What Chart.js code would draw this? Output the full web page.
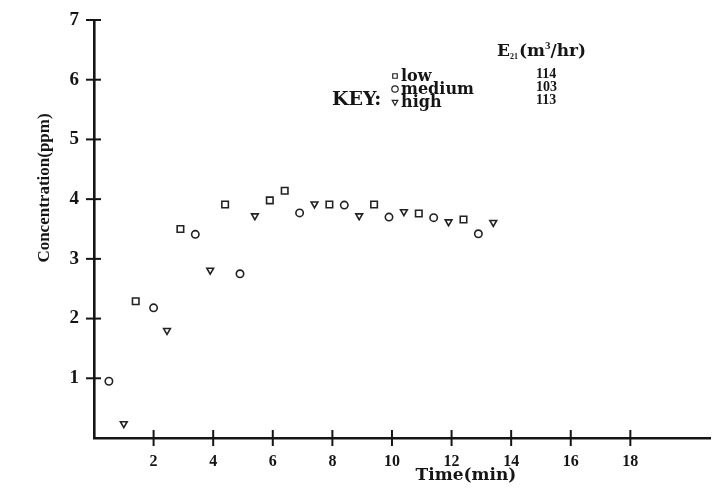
<!DOCTYPE html>
<html>
<head>
<meta charset="utf-8">
<script src="https://cdn.jsdelivr.net/npm/chart.js@4"></script>
<style>
  html, body { margin: 0; padding: 0; background: #fff; }
  #chart { display: block; }
</style>
</head>
<body>
<canvas id="chart" width="717" height="494"></canvas>
<script>
// values
const lowTime = [1.4, 2.9, 4.4, 5.9, 6.4, 7.9, 9.4, 10.9, 12.4];
const lowConc = [2.29, 3.5, 3.91, 3.98, 4.14, 3.91, 3.91, 3.76, 3.66];
const mediumTime = [0.5, 2.0, 3.4, 4.9, 6.9, 8.4, 9.9, 11.4, 12.9];
const mediumConc = [0.95, 2.18, 3.41, 2.75, 3.77, 3.9, 3.7, 3.69, 3.42];
const highTime = [1.0, 2.45, 3.9, 5.4, 7.4, 8.9, 10.4, 11.9, 13.4];
const highConc = [0.24, 1.8, 2.81, 3.72, 3.92, 3.72, 3.79, 3.62, 3.61];

const xTickVals = [2, 4, 6, 8, 10, 12, 14, 16, 18];
const yTickVals = [1, 2, 3, 4, 5, 6, 7];

const keyLabels = ["low", "medium", "high"];
const keyFlows = ["114", "103", "113"];

const serif = "'Liberation Serif', 'DejaVu Serif', serif";
const wide = "'DejaVu Serif', 'Liberation Serif', serif";
const ink = "#151515";

function toPoints(xs, ys) {
  return xs.map((x, i) => ({ x: x, y: ys[i] }));
}

// tick marks that cross the axis lines, like the hand drawn original
const crossTicks = {
  id: "crossTicks",
  afterDraw(chart) {
    const ctx = chart.ctx;
    const xs = chart.scales.x;
    const ys = chart.scales.y;
    const area = chart.chartArea;
    ctx.save();
    ctx.strokeStyle = ink;
    ctx.lineWidth = 2;
    xTickVals.forEach(v => {
      const px = xs.getPixelForValue(v);
      ctx.beginPath();
      ctx.moveTo(px, area.bottom - 8);
      ctx.lineTo(px, area.bottom + 8);
      ctx.stroke();
    });
    yTickVals.forEach(v => {
      const py = ys.getPixelForValue(v);
      ctx.beginPath();
      ctx.moveTo(area.left - 8, py);
      ctx.lineTo(area.left + 7, py);
      ctx.stroke();
    });

    // axis titles
    ctx.fillStyle = ink;
    ctx.font = "bold 17px " + wide;
    ctx.textAlign = "center";
    ctx.textBaseline = "middle";
    ctx.fillText("Time(min)", 466, 476);
    ctx.save();
    ctx.translate(45, 188);
    ctx.rotate(-Math.PI / 2);
    ctx.font = "bold 17px " + serif;
    ctx.fillText("Concentration(ppm)", 0, 0);
    ctx.restore();

    // key block
    ctx.textAlign = "left";
    ctx.font = "bold 19px " + wide;
    ctx.fillText("KEY:", 332, 100);
    const rowY = [77, 90, 103];
    keyLabels.forEach((lab, i) => {
      const ds = chart.data.datasets[i];
      ctx.font = "bold 16px " + wide;
      ctx.fillStyle = ink;
      ctx.fillText(lab, 401, rowY[i]);
      ctx.font = "bold 14px " + serif;
      ctx.fillText(keyFlows[i], 536, rowY[i] - 3);
      ctx.strokeStyle = "#222";
      ctx.fillStyle = "#fff";
      ctx.lineWidth = 1.2;
      Chart.helpers.drawPoint(ctx, {
        pointStyle: ds.pointStyle,
        radius: 3.2,
        rotation: ds.rotation || 0,
        borderWidth: 1.2
      }, 395, rowY[i] - 1);
      ctx.fillStyle = ink;
    });

    // E21 (m3/hr) header
    ctx.fillStyle = ink;
    ctx.font = "bold 17px " + wide;
    let x = 497;
    const base = 52;
    ctx.fillText("E", x, base);
    x += ctx.measureText("E").width;
    ctx.font = "bold 8px " + serif;
    ctx.fillText("21", x, base + 5);
    x += ctx.measureText("21").width + 1;
    ctx.font = "bold 17px " + wide;
    ctx.fillText("(m", x, base);
    x += ctx.measureText("(m").width;
    ctx.font = "bold 11px " + serif;
    ctx.fillText("3", x, base - 6);
    x += ctx.measureText("3").width;
    ctx.font = "bold 17px " + wide;
    ctx.fillText("/hr)", x, base);
    ctx.restore();
  }
};

const whiteBg = {
  id: "whiteBg",
  beforeDraw(chart) {
    const ctx = chart.ctx;
    ctx.save();
    ctx.fillStyle = "#fff";
    ctx.fillRect(0, 0, chart.width, chart.height);
    ctx.restore();
  }
};

const pointCommon = {
  showLine: false,
  borderColor: "#222",
  backgroundColor: "#fff",
  borderWidth: 1.6
};

new Chart(document.getElementById("chart"), {
  type: "scatter",
  data: {
    datasets: [
      Object.assign({
        label: "low",
        data: toPoints(lowTime, lowConc),
        pointStyle: "rect",
        pointRadius: 4.6
      }, pointCommon),
      Object.assign({
        label: "medium",
        data: toPoints(mediumTime, mediumConc),
        pointStyle: "circle",
        pointRadius: 3.7
      }, pointCommon),
      Object.assign({
        label: "high",
        data: toPoints(highTime, highConc),
        pointStyle: "triangle",
        rotation: 180,
        pointRadius: 3.9
      }, pointCommon)
    ]
  },
  options: {
    responsive: false,
    animation: false,
    layout: { padding: { top: 20, right: 0, left: 0, bottom: 0 } },
    plugins: {
      legend: { display: false },
      tooltip: { enabled: false }
    },
    scales: {
      x: {
        type: "linear",
        min: 0,
        max: 20.7,
        afterBuildTicks: s => { s.ticks = xTickVals.map(v => ({ value: v })); },
        afterFit: s => { s.height = 56; s.paddingRight = 0; },
        grid: { drawOnChartArea: false, drawTicks: false },
        border: { display: true, color: ink, width: 2.6 },
        ticks: {
          padding: 14,
          color: ink,
          font: { family: serif, size: 16, weight: "bold" }
        }
      },
      y: {
        type: "linear",
        min: 0,
        max: 7,
        afterBuildTicks: s => { s.ticks = yTickVals.map(v => ({ value: v })); },
        afterFit: s => { s.width = 94; s.paddingTop = 0; s.paddingBottom = 0; },
        grid: { drawOnChartArea: false, drawTicks: false },
        border: { display: true, color: ink, width: 2.6 },
        ticks: {
          padding: 15,
          color: ink,
          font: { family: serif, size: 19, weight: "bold" }
        }
      }
    }
  },
  plugins: [whiteBg, crossTicks]
});
</script>
</body>
</html>
